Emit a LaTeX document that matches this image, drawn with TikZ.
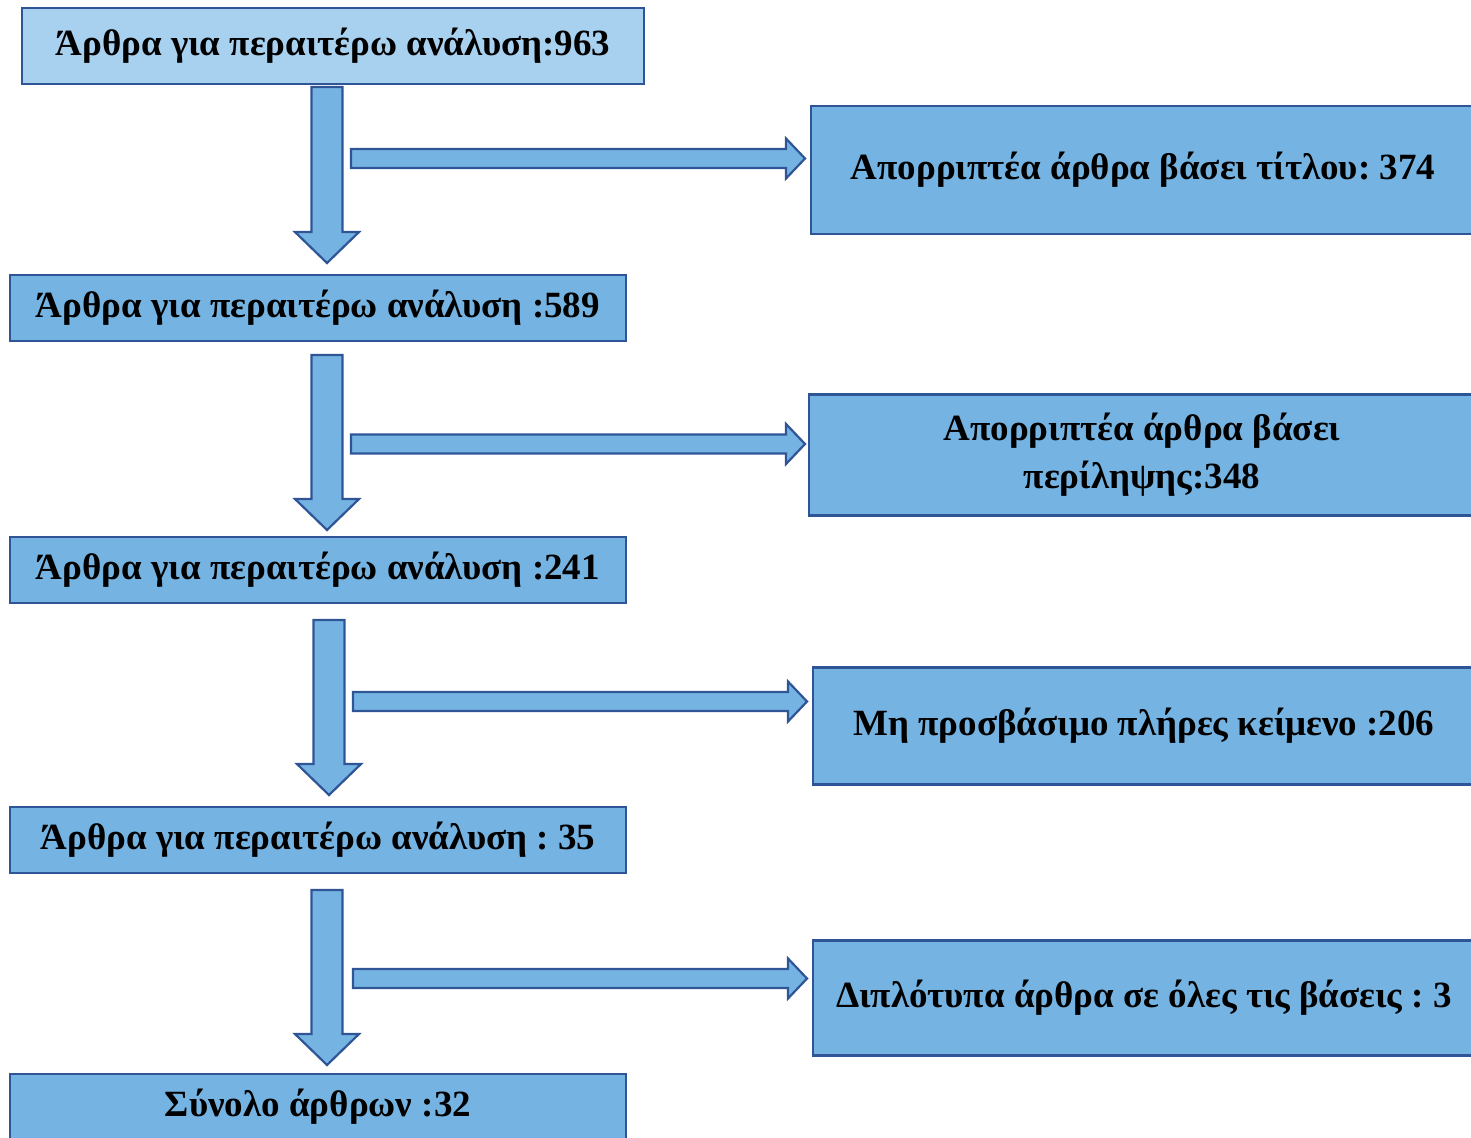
\documentclass[tikz,border=0pt]{standalone}
\usepackage{fontspec}
\setmainfont{Liberation Serif}
\usetikzlibrary{calc}

\definecolor{boxedge}{HTML}{2F5597}
\definecolor{boxfill}{HTML}{75B4E2}
\definecolor{boxlight}{HTML}{A8D0EF}

\tikzset{
  stage/.style={draw=boxedge, line width=2.2pt, fill=boxfill, rectangle,
    inner sep=0pt, align=center, font=\bfseries\fontsize{37}{48}\selectfont},
  blockarrow/.style={draw=boxedge, line width=2.2pt, fill=boxfill, line join=miter}
}

% wide arrow pointing down, from top-centre #1 to tip #2
\newcommand\downblock[2]{%
  \draw[blockarrow] let \p1=(#1), \p2=(#2) in
    (\x1-15.5pt,\y1) -- (\x1+15.5pt,\y1) -- (\x1+15.5pt,\y2+31pt) --
    (\x1+32pt,\y2+31pt) -- (\x1,\y2) -- (\x1-32pt,\y2+31pt) --
    (\x1-15.5pt,\y2+31pt) -- cycle;}
% wide arrow pointing right, from left-centre #1 to tip #2
\newcommand\rightblock[2]{%
  \draw[blockarrow] let \p1=(#1), \p2=(#2) in
    (\x1,\y1+9.5pt) -- (\x2-19pt,\y1+9.5pt) -- (\x2-19pt,\y1+20pt) --
    (\x2,\y1) -- (\x2-19pt,\y1-20pt) -- (\x2-19pt,\y1-9.5pt) --
    (\x1,\y1-9.5pt) -- cycle;}

\frenchspacing
\begin{document}
\begin{tikzpicture}[x=1pt, y=-1pt]
  \useasboundingbox (0,0) rectangle (1471,1137);
  \clip (0,0) rectangle (1471,1137);

  % main column
  \node[stage, fill=boxlight, minimum width=622pt, minimum height=76pt] (b1) at (333,46)
    {Άρθρα για περαιτέρω ανάλυση:963};
  \node[stage, minimum width=616pt, minimum height=66pt] (b2) at (318,308)
    {Άρθρα για περαιτέρω ανάλυση :589};
  \node[stage, minimum width=616pt, minimum height=66pt] (b3) at (318,570)
    {Άρθρα για περαιτέρω ανάλυση :241};
  \node[stage, minimum width=616pt, minimum height=66pt] (b4) at (318,840)
    {Άρθρα για περαιτέρω ανάλυση : 35};
  \node[stage, minimum width=616pt, minimum height=66pt] (b5) at (318,1107)
    {Σύνολο άρθρων :32};

  % excluded articles
  \node[stage, minimum width=664pt, minimum height=128pt] (r1) at (1143,170)
    {Απορριπτέα άρθρα βάσει τίτλου: 374};
  \node[stage, minimum width=666pt, minimum height=121pt] (r2) at (1142,455)
    {Απορριπτέα άρθρα βάσει\\περίληψης:348};
  \node[stage, minimum width=662pt, minimum height=117pt] (r3) at (1144,726)
    {Μη προσβάσιμο πλήρες κείμενο :206};
  \node[stage, minimum width=662pt, minimum height=115pt] (r4) at (1144,998)
    {Διπλότυπα άρθρα σε όλες τις βάσεις : 3};

  % arrow end points
  \coordinate (d1s) at (327,87);   \coordinate (d1e) at (327,263);
  \coordinate (d2s) at (327,355);  \coordinate (d2e) at (327,530);
  \coordinate (d3s) at (329,620);  \coordinate (d3e) at (329,795);
  \coordinate (d4s) at (327,890);  \coordinate (d4e) at (327,1065);
  \coordinate (h1s) at (351,158.5); \coordinate (h1e) at (805,158.5);
  \coordinate (h2s) at (351,444);   \coordinate (h2e) at (805,444);
  \coordinate (h3s) at (353,701.5); \coordinate (h3e) at (807,701.5);
  \coordinate (h4s) at (353,978.5); \coordinate (h4e) at (807,978.5);

  \downblock{d1s}{d1e}
  \downblock{d2s}{d2e}
  \downblock{d3s}{d3e}
  \downblock{d4s}{d4e}
  \rightblock{h1s}{h1e}
  \rightblock{h2s}{h2e}
  \rightblock{h3s}{h3e}
  \rightblock{h4s}{h4e}
\end{tikzpicture}
\end{document}
